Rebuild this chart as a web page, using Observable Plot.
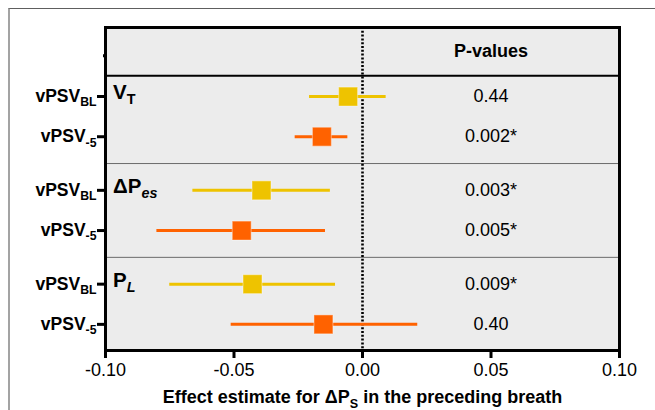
<!DOCTYPE html>
<html>
<head>
<meta charset="utf-8">
<script src="https://cdn.jsdelivr.net/npm/d3@7"></script>
<script src="https://cdn.jsdelivr.net/npm/@observablehq/plot@0.6"></script>
<style>
  html, body { margin: 0; padding: 0; background: #fff; }
  #wrap { position: relative; width: 655px; height: 410px; overflow: hidden; }
  #border { position: absolute; left: 8px; top: 8px; width: 800px; height: 600px;
            border-top: 1.5px solid #5e5e5e; border-left: 2px solid #a3a3a3; pointer-events: none; }
  #chart { position: absolute; left: 0; top: 0; }
</style>
</head>
<body>
<div id="wrap"><div id="border"></div><div id="chart"></div></div>
<script>
// ---- data ----
const groups = ["V_{T}", "ΔP_{~es}", "P_{~L}"];
const conditions = ["vPSV_{BL}", "vPSV_{-5}"];
const rowGroup = [0, 0, 1, 1, 2, 2];
const rowCondition = [0, 1, 0, 1, 0, 1];
const estimates = [-0.0056, -0.0158, -0.0393, -0.0470, -0.0428, -0.0152];
const lowerCI   = [-0.0206, -0.0262, -0.0660, -0.0800, -0.0750, -0.0511];
const upperCI   = [ 0.0092, -0.0057, -0.0125, -0.0144, -0.0105,  0.0215];
const pValues   = ["0.44", "0.002*", "0.003*", "0.005*", "0.009*", "0.40"];
const xTicks = [-0.10, -0.05, 0.00, 0.05, 0.10];
const pHeader = "P-values";
const xTitle = "Effect estimate for ΔP_{S} in the preceding breath";
const condColors = ["#EEC300", "#FF6200"];

// ---- layout (row slots) ----
const groupStep = 7, condStep = 3;
const rows = estimates.map((e, i) => ({
  group: groups[rowGroup[i]],
  cond: conditions[rowCondition[i]],
  pos: rowGroup[i] * groupStep + rowCondition[i] * condStep,
  est: e, lower: lowerCI[i], upper: upperCI[i], p: pValues[i]
}));
const groupRows = groups.map((g, i) => ({label: g, pos: i * groupStep}));
const separators = groups.slice(1).map((g, i) => (i + 1) * groupStep - 2);
const yTop = -5.15, yBottom = 18.95, headerLine = -1.55;
const headerY = (yTop + headerLine) / 2;
const labelByPos = new Map(rows.map(r => [r.pos, r.cond]));

const chart = Plot.plot({
  width: 655, height: 410,
  marginLeft: 105, marginRight: 36, marginTop: 27, marginBottom: 60,
  style: {fontFamily: "'Liberation Sans', Arial, Helvetica, sans-serif", fontSize: "18px", background: "transparent", color: "black", overflow: "visible"},
  x: {domain: [-0.1, 0.1], axis: null},
  y: {domain: [yTop, yBottom], reverse: true, axis: null},
  color: {domain: conditions, range: condColors},
  marks: [
    Plot.frame({fill: "#ececec", stroke: null}),
    Plot.ruleY(separators, {stroke: "#6b6b6b", strokeWidth: 1}),
    Plot.ruleY([headerLine], {stroke: "black", strokeWidth: 2}),
    Plot.ruleX([0], {stroke: "black", strokeWidth: 2.6, strokeDasharray: "2,1.8"}),
    Plot.ruleY(rows, {y: "pos", x1: "lower", x2: "upper", stroke: "cond", strokeWidth: 3}),
    Plot.dot(rows, {x: "est", y: "pos", symbol: "square", r: 10.7, fill: "cond", stroke: "white", strokeOpacity: 0.35, strokeWidth: 1.2}),
    Plot.text(groupRows, {x: -0.1, y: "pos", text: "label", dx: 7.5, dy: -4, textAnchor: "start", fontSize: 20.5, fontWeight: "bold"}),
    Plot.text(rows, {x: 0.05, y: "pos", text: "p", fontSize: 18}),
    Plot.text([pHeader], {x: 0.05, y: headerY, text: d => d, fontSize: 18, fontWeight: "bold"}),
    Plot.frame({stroke: "black", strokeWidth: 3}),
    Plot.axisX({ticks: xTicks, tickFormat: d => d.toFixed(2), tickSize: 8, tickPadding: 5, strokeWidth: 3, fontSize: 18, label: null}),
    Plot.axisY({ticks: rows.map(r => r.pos), tickFormat: d => labelByPos.get(d), tickSize: 8, tickPadding: 1, strokeWidth: 3, fontSize: 17.5, fontWeight: "bold", label: null}),
    Plot.axisY({ticks: [headerY + 0.3], tickFormat: () => "", tickSize: 2, strokeWidth: 3, label: null}),
    Plot.text([xTitle], {frameAnchor: "bottom", lineAnchor: "top", dy: 40, text: d => d, fontSize: 18, fontWeight: "bold"})
  ]
});
document.getElementById("chart").appendChild(chart);

// convert "_{sub}" markup into real subscript tspans ("~" = italic)
function richText(root) {
  const ns = "http://www.w3.org/2000/svg";
  root.querySelectorAll("text").forEach(t => {
    const s = t.textContent;
    if (!s.includes("_{")) return;
    const fs = parseFloat(t.getAttribute("font-size")) || parseFloat(getComputedStyle(t).fontSize) || 16;
    const shift = fs * 0.24;
    while (t.firstChild) t.removeChild(t.firstChild);
    const add = (str, attrs) => {
      const sp = document.createElementNS(ns, "tspan");
      sp.textContent = str;
      for (const k in attrs) sp.setAttribute(k, attrs[k]);
      t.appendChild(sp);
    };
    const re = /_\{(~?)([^}]*)\}/g;
    let last = 0, m, down = false;
    while ((m = re.exec(s))) {
      if (m.index > last) { add(s.slice(last, m.index), down ? {dy: -shift} : {}); down = false; }
      const a = {dy: shift, "font-size": fs * 0.7};
      if (m[1]) a["font-style"] = "italic";
      add(m[2], a);
      down = true;
      last = re.lastIndex;
    }
    if (last < s.length) add(s.slice(last), down ? {dy: -shift} : {});
  });
}
richText(chart);
</script>
</body>
</html>
